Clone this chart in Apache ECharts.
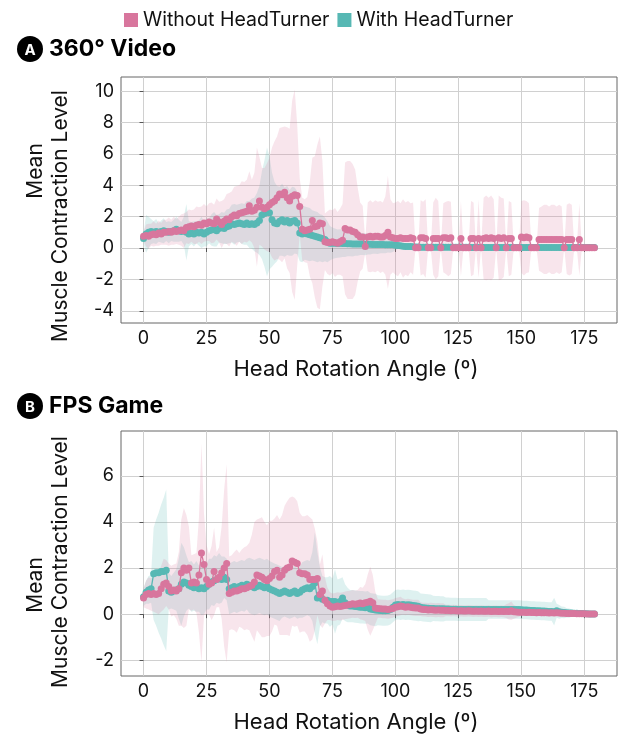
<!DOCTYPE html>
<html><head><meta charset="utf-8">
<script src="https://cdn.jsdelivr.net/npm/echarts@6/dist/echarts.min.js"></script>
<style>html,body{margin:0;padding:0;background:#fff}#c{width:621px;height:734px}</style>
</head><body><div id="c"></div>
<script>
// Head rotation angles (degrees), one sample per degree
const angles = Array.from({length: 180}, (_, i) => i);
const xTicks = [0, 25, 50, 75, 100, 125, 150, 175];
const yTicksA = [-4, -2, 0, 2, 4, 6, 8, 10];
const yTicksB = [-2, 0, 2, 4, 6];

// Panel A: 360° Video
const videoWithoutMean = [0.75,0.8,0.75,0.85,0.9,0.85,0.95,0.9,1.0,1.0,
1.05,1.0,1.1,1.05,1.1,1.15,1.1,1.3,1.35,1.4,
1.35,1.45,1.5,1.45,1.6,1.55,1.65,1.6,1.55,1.85,
1.65,1.5,1.7,1.85,1.8,2.0,2.1,2.05,2.2,2.25,
2.3,2.35,2.7,2.35,2.4,2.6,3.0,2.6,2.5,2.6,
2.75,2.9,3.0,3.2,3.45,3.4,3.55,3.2,3.0,3.3,
3.4,3.35,2.65,1.2,1.1,1.15,1.2,1.75,1.35,1.4,
1.6,1.55,0.4,0.35,0.35,0.4,0.35,0.3,0.4,0.5,
1.25,1.15,1.15,1.05,1.0,0.85,0.7,0.7,0.1,0.7,
0.75,0.7,0.75,0.75,0.7,0.7,0.8,1.0,0.7,0.65,
0.6,0.6,0.65,0.6,0.6,0.6,0.65,0.6,0.02,0.02,
0.65,0.65,0.6,0.02,0.02,0.6,0.6,0.6,0.02,0.65,
0.65,0.6,0.65,0.02,0.02,0.02,0.6,0.02,0.02,0.02,
0.6,0.6,0.02,0.6,0.02,0.6,0.65,0.6,0.65,0.6,
0.02,0.65,0.6,0.65,0.02,0.6,0.6,0.02,0.02,0.02,
0.7,0.65,0.7,0.65,0.02,0.02,0.02,0.55,0.55,0.55,
0.55,0.55,0.55,0.55,0.55,0.55,0.55,0.02,0.55,0.55,
0.55,0.02,0.02,0.55,0.02,0.02,0.02,0.02,0.02,0.02];
const videoWithoutSd = [0.3,0.7,0.8,0.7,0.8,0.7,0.8,0.7,0.8,0.8,
0.9,0.8,0.9,0.8,0.9,1.0,1.1,1.0,1.1,1.0,
1.1,1.2,1.1,1.2,1.2,1.1,1.2,1.3,1.2,1.3,
1.3,1.5,1.4,1.6,1.7,1.6,1.8,1.9,1.8,2.0,
1.9,2.0,2.2,2.0,2.4,3.8,2.8,2.5,2.6,2.8,
3.0,3.5,3.8,3.9,4.2,4.3,4.2,4.5,4.6,6.1,
6.7,4.5,1.8,2.0,2.0,2.1,3.0,4.0,4.5,5.2,
5.5,4.0,1.8,2.0,2.1,2.0,2.2,2.0,2.1,2.3,
4.2,4.4,4.4,4.3,4.0,3.0,2.2,2.0,0.4,2.2,
2.3,2.2,2.3,2.2,2.3,2.2,2.5,3.6,2.4,2.2,
2.3,2.4,2.2,2.5,2.3,2.4,2.2,2.3,0.02,0.02,
2.4,2.3,2.5,0.02,0.02,2.3,2.6,2.4,0.02,2.2,
2.3,2.4,2.3,0.02,0.02,0.02,2.4,0.02,0.02,0.02,
2.4,2.3,0.02,2.5,0.02,2.6,2.7,2.6,2.7,2.5,
0.02,2.7,2.6,2.5,0.02,2.4,2.3,0.02,0.02,0.02,
2.3,2.4,2.3,2.2,0.02,0.02,0.02,2.0,2.1,2.2,
2.2,2.1,2.2,2.2,2.1,2.2,2.1,0.02,2.2,2.3,
2.2,0.02,0.02,2.3,0.02,0.02,0.02,0.02,0.02,0.02];
const videoWithMean = [0.6,0.9,1.0,1.05,1.0,1.05,1.0,1.05,1.1,1.05,
1.0,1.05,1.1,1.2,1.1,1.05,1.1,1.0,0.9,0.95,
0.9,1.0,0.95,1.0,0.9,1.0,1.1,1.15,1.2,1.1,
1.25,1.3,1.25,1.35,1.4,1.55,1.5,1.55,1.6,1.55,
1.5,1.6,1.5,1.55,1.5,1.6,1.75,2.1,2.2,2.3,
2.25,1.8,1.6,1.55,1.7,1.8,1.65,1.75,1.6,1.7,
1.75,1.6,0.95,0.9,0.95,0.9,0.85,0.8,0.75,0.7,
0.65,0.6,0.55,0.4,0.3,0.3,0.3,0.28,0.3,0.28,
0.28,0.27,0.27,0.26,0.26,0.25,0.25,0.25,0.24,0.24,
0.24,0.23,0.23,0.22,0.22,0.22,0.21,0.21,0.2,0.2,
0.18,0.16,0.14,0.12,0.1,0.1,0.09,0.08,0.07,0.06,
0.05,0.05,0.05,0.05,0.05,0.05,0.05,0.05,0.05,0.05,
0.05,0.05,0.05,0.05,0.05,0.05,0.05,0.05,0.05,0.05,
0.04,0.04,0.04,0.04,0.04,0.04,0.04,0.04,0.04,0.04,
0.04,0.04,0.04,0.04,0.04,0.04,0.04,0.04,0.04,0.04,
0.04,0.04,0.04,0.04,0.04,0.04,0.04,0.04,0.04,0.04,
0.04,0.04,0.04,0.04,0.04,0.04,0.04,0.04,0.04,0.04,
0.04,0.04,0.04,0.04,0.04,0.04,0.04,0.04,0.04,0.04];
const videoWithSd = [0.3,1.2,1.0,0.8,0.7,0.8,0.6,0.7,0.8,0.6,
0.7,0.6,0.7,0.8,0.7,0.6,0.9,1.8,0.8,0.7,
0.8,0.7,0.8,1.0,0.8,0.9,0.8,1.0,1.1,1.0,
0.9,1.0,1.0,1.1,1.1,1.2,1.3,1.2,1.2,1.3,
1.3,1.4,1.5,1.6,1.7,1.9,2.2,2.8,3.4,4.1,
3.6,3.0,2.6,2.4,2.2,2.3,2.2,2.2,2.1,2.2,
2.1,2.0,1.8,1.8,1.7,1.7,1.7,1.6,1.6,1.6,
1.5,1.5,1.4,1.3,1.1,1.0,0.95,0.9,0.9,0.85,
0.85,0.8,0.8,0.8,0.75,0.75,0.7,0.7,0.7,0.65,
0.65,0.6,0.6,0.6,0.55,0.55,0.55,0.5,0.5,0.45,
0.3,0.2,0.15,0.1,0.1,0.1,0.08,0.08,0.06,0.06,
0.05,0.05,0.05,0.05,0.05,0.05,0.05,0.05,0.05,0.05,
0.05,0.05,0.05,0.05,0.05,0.05,0.05,0.05,0.05,0.05,
0.05,0.05,0.05,0.05,0.05,0.05,0.05,0.05,0.05,0.05,
0.05,0.05,0.05,0.05,0.05,0.05,0.05,0.05,0.05,0.05,
0.05,0.05,0.05,0.05,0.05,0.05,0.05,0.05,0.05,0.05,
0.05,0.05,0.05,0.05,0.05,0.05,0.05,0.05,0.05,0.05,
0.05,0.05,0.05,0.05,0.05,0.05,0.05,0.05,0.05,0.05];

// Panel B: FPS Game
const gameWithoutMean = [0.7,0.85,0.9,0.85,0.9,0.85,0.9,1.1,1.3,1.35,
1.2,1.0,1.05,1.0,1.1,1.8,2.0,1.9,2.0,1.35,
1.4,1.35,1.7,2.65,2.15,1.5,1.3,1.35,1.85,1.5,
1.6,1.8,2.0,2.2,0.9,0.95,1.0,1.0,1.05,1.1,
1.1,1.15,1.2,1.25,1.4,1.7,1.65,1.6,1.5,1.45,
1.55,1.65,1.85,1.9,1.6,1.7,1.9,2.0,2.05,2.3,
2.25,2.2,1.8,1.75,1.75,1.7,1.5,1.5,1.5,1.55,
0.85,1.0,0.6,0.45,0.35,0.3,0.32,0.35,0.33,0.35,
0.38,0.4,0.42,0.45,0.43,0.45,0.48,0.45,0.5,0.52,
0.56,0.5,0.27,0.25,0.24,0.22,0.22,0.2,0.22,0.25,
0.3,0.32,0.35,0.33,0.3,0.32,0.3,0.28,0.27,0.27,
0.22,0.2,0.2,0.18,0.19,0.18,0.17,0.18,0.17,0.17,
0.16,0.16,0.15,0.16,0.15,0.14,0.15,0.14,0.14,0.15,
0.14,0.13,0.14,0.13,0.14,0.13,0.13,0.14,0.12,0.13,
0.13,0.12,0.13,0.12,0.13,0.12,0.15,0.1,0.09,0.08,
0.08,0.08,0.07,0.08,0.07,0.07,0.06,0.07,0.06,0.06,
0.06,0.05,0.06,0.05,0.06,0.05,0.04,0.04,0.03,0.03,
0.03,0.03,0.02,0.02,0.02,0.02,0.01,0.01,0.01,0.01];
const gameWithoutSd = [0.4,0.6,0.7,0.7,0.8,0.8,0.9,1.0,1.1,1.0,
1.0,1.1,1.1,1.2,1.6,2.3,2.6,2.4,1.8,1.2,
1.2,1.3,2.5,4.75,2.2,1.5,1.3,1.6,1.9,1.2,
1.3,2.0,3.4,4.3,1.6,1.6,1.7,1.8,1.6,1.7,
1.8,1.8,1.9,2.2,2.6,2.4,2.5,2.6,2.5,2.4,
2.5,2.4,2.3,2.4,2.5,2.6,2.8,2.9,3.0,2.8,
2.8,2.7,2.6,2.5,2.5,2.6,2.7,2.6,2.2,1.6,
1.3,1.6,1.0,0.7,0.6,0.6,0.6,0.6,0.6,0.6,
0.6,0.6,0.6,0.6,0.6,0.6,0.7,0.7,0.8,1.2,
1.5,1.2,0.7,0.4,0.4,0.4,0.4,0.4,0.4,0.4,
0.4,0.4,0.4,0.35,0.35,0.35,0.35,0.35,0.35,0.35,
0.3,0.3,0.3,0.3,0.3,0.3,0.3,0.3,0.3,0.3,
0.25,0.25,0.25,0.25,0.25,0.25,0.25,0.25,0.25,0.25,
0.25,0.25,0.25,0.25,0.25,0.25,0.25,0.25,0.25,0.25,
0.25,0.25,0.25,0.25,0.3,0.35,0.4,0.3,0.25,0.2,
0.15,0.15,0.15,0.15,0.15,0.15,0.15,0.15,0.15,0.15,
0.12,0.1,0.1,0.1,0.1,0.08,0.06,0.05,0.05,0.04,
0.04,0.03,0.03,0.02,0.02,0.02,0.01,0.01,0.01,0.0];
const gameWithMean = [0.75,0.95,1.05,1.1,1.75,1.8,1.8,1.85,1.85,1.9,
1.0,0.95,1.0,1.05,1.1,1.3,1.4,1.35,1.25,1.2,
1.15,1.2,1.1,1.15,1.1,1.2,1.3,1.4,1.45,1.5,
1.55,1.5,1.6,1.5,1.1,1.15,1.2,1.15,1.2,1.25,
1.2,1.3,1.25,1.2,1.15,1.2,1.25,1.2,1.15,1.2,
1.1,1.05,1.0,0.95,0.9,0.95,1.0,0.95,0.9,0.95,
1.0,0.9,0.95,1.05,1.1,1.15,1.1,1.2,1.35,0.7,
0.75,0.65,0.6,0.6,0.55,0.55,0.55,0.5,0.55,0.7,
0.5,0.4,0.35,0.35,0.33,0.32,0.3,0.3,0.28,0.3,
0.22,0.2,0.18,0.17,0.16,0.15,0.15,0.16,0.2,0.3,
0.4,0.42,0.4,0.42,0.4,0.41,0.4,0.38,0.36,0.34,
0.3,0.28,0.27,0.26,0.25,0.25,0.24,0.24,0.23,0.23,
0.22,0.22,0.21,0.21,0.21,0.2,0.2,0.2,0.2,0.2,
0.2,0.2,0.2,0.2,0.2,0.2,0.2,0.2,0.2,0.2,
0.2,0.2,0.2,0.2,0.2,0.2,0.2,0.2,0.2,0.2,
0.19,0.18,0.18,0.17,0.16,0.16,0.15,0.15,0.14,0.14,
0.13,0.12,0.12,0.11,0.15,0.1,0.08,0.07,0.06,0.05,
0.05,0.04,0.04,0.03,0.03,0.02,0.02,0.01,0.01,0.01];
const gameWithSd = [0.4,0.5,0.6,0.6,2.0,2.3,2.6,2.9,3.2,3.5,
0.8,0.7,0.8,0.9,1.3,1.8,1.5,1.2,1.0,1.1,
1.0,1.1,1.0,1.2,1.1,1.0,1.1,1.0,1.1,1.0,
1.1,1.0,0.9,0.9,1.1,1.1,1.1,1.1,1.1,1.1,
1.1,1.1,1.2,1.2,1.2,1.2,1.2,1.2,1.2,1.2,
1.2,1.2,1.2,1.2,1.2,1.1,1.1,1.1,1.1,1.1,
1.1,1.1,1.1,1.2,1.2,1.2,1.2,1.5,2.2,2.0,
1.3,1.0,1.0,1.0,1.1,1.0,1.4,1.0,1.0,0.9,
0.8,0.75,0.7,0.7,0.7,0.7,0.7,0.7,0.7,0.7,
0.7,0.7,0.7,0.65,0.65,0.65,0.65,0.65,0.65,0.65,
0.65,0.65,0.65,0.65,0.65,0.65,0.65,0.65,0.65,0.65,
0.6,0.6,0.6,0.6,0.6,0.55,0.55,0.55,0.55,0.55,
0.5,0.5,0.5,0.5,0.5,0.5,0.5,0.5,0.5,0.5,
0.5,0.5,0.5,0.5,0.5,0.5,0.5,0.4,0.4,0.4,
0.4,0.4,0.4,0.4,0.4,0.4,0.4,0.4,0.4,0.4,
0.4,0.4,0.4,0.4,0.4,0.4,0.4,0.4,0.4,0.4,
0.4,0.4,0.4,0.6,0.3,0.3,0.25,0.25,0.2,0.2,
0.15,0.12,0.1,0.08,0.06,0.05,0.04,0.03,0.02,0.01];

const PINK = '#d8769d';
const TEAL = '#57b8b4';
const PINK_BAND = 'rgba(222,125,162,0.2)';
const TEAL_BAND = 'rgba(90,184,180,0.2)';
const FONT = 'Inter, "Noto Sans", sans-serif';

// mean ± sd band drawn as one polygon through the axes' coordinate mapping
function band(gi, mean, sd, fill) {
  const lo = angles.map((a, i) => mean[i] - sd[i]);
  const hi = angles.map((a, i) => mean[i] + sd[i]);
  return {type: 'custom', xAxisIndex: gi, yAxisIndex: gi, silent: true, z: 1, clip: true, animation: false,
    data: angles.map((a, i) => [a, lo[i], hi[i]]),
    encode: {x: 0, y: [1, 2]},
    renderItem: function (params, api) {
      if (params.dataIndex !== 0) return null;
      const pts = [];
      for (let i = 0; i < angles.length; i++) pts.push(api.coord([angles[i], hi[i]]));
      for (let i = angles.length - 1; i >= 0; i--) pts.push(api.coord([angles[i], lo[i]]));
      return {type: 'polygon', shape: {points: pts}, style: {fill: fill, stroke: null}};
    }};
}
function meanLine(gi, mean, color, name, z) {
  return {type: 'line', name: name, xAxisIndex: gi, yAxisIndex: gi,
    data: angles.map((a, i) => [a, mean[i]]),
    symbol: 'circle', symbolSize: 7, showAllSymbol: true, animation: false, z: z,
    itemStyle: {color: color, borderWidth: 0}, lineStyle: {color: color, width: 1.3}};
}
function xAxis(gi) {
  return {gridIndex: gi, type: 'value', min: -8.95, max: 187.95,
    name: 'Head Rotation Angle (º)', nameLocation: 'middle', nameGap: 35,
    nameTextStyle: {fontSize: 22, color: '#111', fontFamily: FONT, padding: [0, 26, 0, 0]},
    axisLine: {show: false},
    axisTick: {show: true, customValues: xTicks, length: 4, lineStyle: {color: '#555'}},
    axisLabel: {customValues: xTicks, fontSize: 18, color: '#111', fontFamily: FONT, margin: 7},
    splitLine: {show: true, lineStyle: {color: '#d0d0d0', width: 1}}};
}
function yAxis(gi, min, max, ticks) {
  return {gridIndex: gi, type: 'value', min: min, max: max,
    axisLine: {show: false},
    axisTick: {show: true, customValues: ticks, length: 4, lineStyle: {color: '#555'}},
    axisLabel: {customValues: ticks, fontSize: 18, color: '#111', fontFamily: FONT, margin: 7},
    splitLine: {show: true, lineStyle: {color: '#d0d0d0', width: 1}}};
}
function panelTitle(letter, title, cy) {
  return [
    {type: 'circle', shape: {cx: 30, cy: cy, r: 13}, style: {fill: '#000'}},
    {type: 'text', x: 30, y: cy + 1, style: {text: letter, fill: '#fff', font: 'bold 15px ' + FONT, align: 'center', verticalAlign: 'middle'}},
    {type: 'text', x: 49, y: cy, style: {text: title, fill: '#000', font: 'bold 23px ' + FONT, align: 'left', verticalAlign: 'middle'}}
  ];
}
function yName(text, cx, cy) {
  return {type: 'text', x: cx, y: cy, rotation: Math.PI / 2,
    style: {text: text, fill: '#111', font: '21px ' + FONT, align: 'center', verticalAlign: 'middle'}};
}

const chart = echarts.init(document.getElementById('c'), null, {renderer: 'canvas'});
chart.setOption({
  animation: false,
  backgroundColor: '#fff',
  legend: {top: 5, left: 119, itemWidth: 14, itemHeight: 14, itemGap: 8,
    data: [{name: 'Without HeadTurner', icon: 'rect'}, {name: 'With HeadTurner', icon: 'rect'}],
    textStyle: {fontSize: 19.5, color: '#111', fontFamily: FONT}},
  grid: [
    {left: 121, top: 77, width: 496, height: 246, show: true, borderColor: '#666', borderWidth: 1, backgroundColor: 'transparent'},
    {left: 121, top: 431, width: 496, height: 246, show: true, borderColor: '#666', borderWidth: 1, backgroundColor: 'transparent'}
  ],
  xAxis: [xAxis(0), xAxis(1)],
  yAxis: [yAxis(0, -4.78, 10.9, yTicksA), yAxis(1, -2.68, 7.94, yTicksB)],
  graphic: [].concat(panelTitle('A', '360° Video', 49), panelTitle('B', 'FPS Game', 406), [
    yName('Mean', 36, 171), yName('Muscle Contraction Level', 61, 216),
    yName('Mean', 36, 585), yName('Muscle Contraction Level', 61, 562)
  ]),
  series: [].concat(
    [band(0, videoWithMean, videoWithSd, TEAL_BAND), band(0, videoWithoutMean, videoWithoutSd, PINK_BAND)],
    [meanLine(0, videoWithMean, TEAL, 'With HeadTurner', 3), meanLine(0, videoWithoutMean, PINK, 'Without HeadTurner', 4)],
    [band(1, gameWithMean, gameWithSd, TEAL_BAND), band(1, gameWithoutMean, gameWithoutSd, PINK_BAND)],
    [meanLine(1, gameWithMean, TEAL, 'With HeadTurner', 3), meanLine(1, gameWithoutMean, PINK, 'Without HeadTurner', 4)]
  )
});
</script></body></html>
